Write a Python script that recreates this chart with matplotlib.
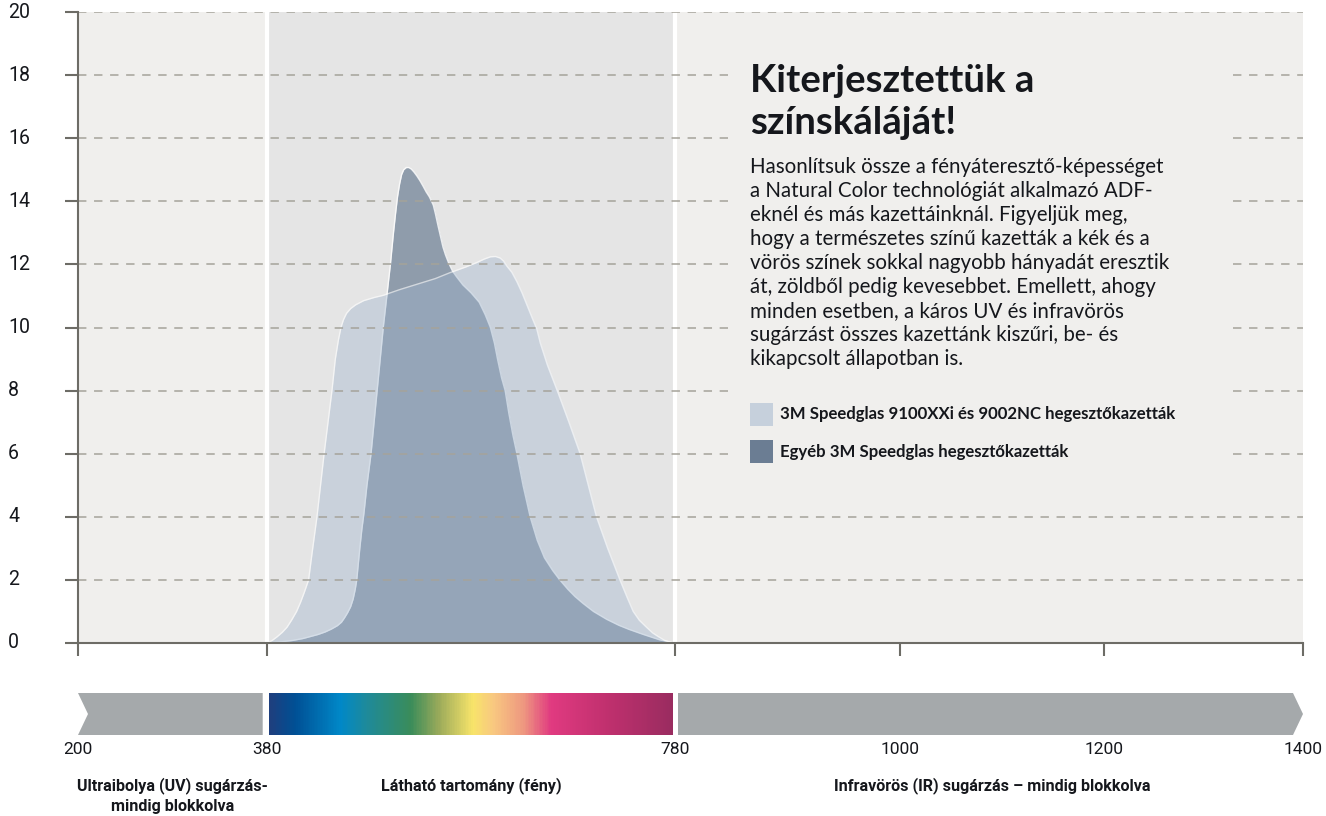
import numpy as np
import matplotlib
matplotlib.use("Agg")
import matplotlib.pyplot as plt
from matplotlib.colors import LinearSegmentedColormap
from matplotlib.patches import Polygon, Rectangle
from matplotlib.transforms import blended_transform_factory

# ---------------- data ----------------
wl_other = [380, 395, 405, 415, 422, 430, 437, 443, 449, 453, 456, 459, 462, 464.5, 466.5, 468,
            469.5, 471, 473, 475, 478, 482, 485, 488,
            491, 494, 497.5, 501, 504, 506, 508, 510, 512, 514, 516.5, 519, 521.5, 524, 527, 530,
            533, 536, 539, 541, 543, 545, 547.5, 550, 552.5, 555, 558, 562, 566, 572, 580, 588,
            594, 599, 603, 606, 610, 613.5, 617,
            621, 625, 631, 638, 645, 652, 660, 667, 675, 682, 690, 700, 713, 725, 735, 749, 765, 780]
tr_other = [0, 0.04, 0.08, 0.14, 0.2, 0.27, 0.35, 0.44, 0.55, 0.66, 0.8, 0.96, 1.15, 1.4, 1.7, 2.0,
            2.5, 3.0, 3.6, 4.1, 5.0, 6.0, 7.0, 8.0,
            9.0, 10.0, 11.0, 12.0, 13.0, 13.6, 14.15, 14.55, 14.85, 15.0, 15.07, 15.07, 15.02, 14.93, 14.8, 14.65,
            14.48, 14.3, 14.15, 14.02, 13.88, 13.62, 13.25, 12.9, 12.55, 12.3, 12.05, 11.78, 11.6, 11.35, 11.1, 10.8,
            10.4, 10.0, 9.5, 9.0, 8.4, 8.0, 7.3,
            6.6, 6.0, 5.0, 4.0, 3.25, 2.7, 2.3, 2.0, 1.7, 1.47, 1.25, 1.0, 0.75, 0.56, 0.43, 0.27, 0.1, 0]

wl_nc = [380, 385, 390, 395, 399.6, 404, 409, 413, 416.5, 420.8, 424, 429, 436, 443.7, 447, 450,
         452.5, 455, 458, 462, 467, 474.7, 485, 494, 510, 527, 545, 559.6, 575, 585.7, 593, 599,
         604, 608.6, 612, 615, 620, 625, 630, 635, 640, 644.5, 648, 655, 665.7, 676, 687, 695,
         703, 714, 726, 733, 739, 745, 752, 758, 763.7, 770, 778]
tr_nc = [0, 0.08, 0.2, 0.34, 0.5, 0.72, 1.0, 1.3, 1.6, 2.0, 2.8, 4.0, 6.0, 8.0, 9.0, 9.6,
         10.0, 10.25, 10.45, 10.6, 10.72, 10.85, 10.95, 11.02, 11.2, 11.37, 11.55, 11.74, 11.92, 12.06, 12.17, 12.24,
         12.25, 12.2, 12.1, 11.95, 11.75, 11.45, 11.1, 10.7, 10.3, 9.95, 9.5, 8.8, 7.9, 7.0, 6.0, 5.0,
         4.0, 3.0, 2.0, 1.45, 1.0, 0.72, 0.5, 0.32, 0.2, 0.08, 0]

x_ticks = [200, 380, 780, 1000, 1200, 1400]
x_ticklabels = ["200", "380", "780", "1000", "1200", "1400"]
y_ticks = [0, 2, 4, 6, 8, 10, 12, 14, 16, 18, 20]
visible_band = [380, 780]
band_centers = [290, 580, 1090]
band_labels = ["Ultraibolya (UV) sugárzás-\nmindig blokkolva",
               "Látható tartomány (fény)",
               "Infravörös (IR) sugárzás – mindig blokkolva"]
legend_labels = ["3M Speedglas 9100XXi és 9002NC hegesztőkazetták",
                 "Egyéb 3M Speedglas hegesztőkazetták"]
title_lines = ["Kiterjesztettük a", "színskáláját!"]
body_lines = ["Hasonlítsuk össze a fényáteresztő-képességet",
              "a Natural Color technológiát alkalmazó ADF-",
              "eknél és más kazettáinknál. Figyeljük meg,",
              "hogy a természetes színű kazetták a kék és a",
              "vörös színek sokkal nagyobb hányadát eresztik",
              "át, zöldből pedig kevesebbet. Emellett, ahogy",
              "minden esetben, a káros UV és infravörös",
              "sugárzást összes kazettánk kiszűri, be- és",
              "kikapcsolt állapotban is."]

# ---------------- style ----------------
W, H = 1326, 816
BG_OUT = "#f0efed"
BG_VIS = "#e5e5e5"
C_LIGHT = "#9fb5ce"
C_DARK = "#6b7d93"
C_LEG_LIGHT = "#c6d0dc"
C_LEG_DARK = "#6b7d93"
C_GRID = "#a5a39a"
C_AXIS = "#6d6c66"
C_GRAY = "#a5a9ab"
TXT = "#15171c"
FONT_TEXT = ["Lato", "DejaVu Sans"]
FONT_AX = ["Roboto", "DejaVu Sans"]

fig = plt.figure(figsize=(W / 100, H / 100), dpi=100)
fig.patch.set_facecolor("white")


def fx(px):
    return px / W


def fy(py):
    return 1 - py / H


tick_px = [78, 267, 675, 900, 1104, 1303]


def fwd(v):
    return np.interp(v, x_ticks, tick_px)


def inv(p):
    return np.interp(p, tick_px, x_ticks)


# ---------------- main axes ----------------
ax = fig.add_axes([fx(78), fy(643), (1303 - 78) / W, (643 - 12) / H])
ax.set_xscale("function", functions=(fwd, inv))
ax.set_xlim(200, 1400)
ax.set_ylim(0, 20)
ax.set_facecolor(BG_OUT)
ax.axvspan(visible_band[0], visible_band[1], color=BG_VIS, zorder=0.5, lw=0)
for v in visible_band:
    ax.axvline(v, color="white", lw=3, zorder=0.8)

ax.fill_between(wl_other, tr_other, color=C_DARK, alpha=0.7, lw=0, zorder=1.2)
ax.plot(wl_other, tr_other, color="white", lw=1.0, alpha=0.8, zorder=1.3,
        solid_joinstyle="round")
ax.fill_between(wl_nc, tr_nc, color=C_LIGHT, alpha=0.4, lw=0, zorder=1.4)
ax.plot(wl_nc, tr_nc, color="white", lw=1.0, alpha=0.6, zorder=1.5,
        solid_joinstyle="round")

ax.set_yticks(y_ticks)
ax.yaxis.grid(True, color=C_GRID, lw=1.1, linestyle=(0, (5.5, 5)), zorder=2.5)
ax.set_axisbelow(False)
ax.set_yticklabels([])
ax.set_xticks(x_ticks)
ax.set_xticklabels([])
ax.xaxis.set_minor_locator(matplotlib.ticker.NullLocator())
ax.tick_params(axis="both", length=9.5, width=1.5, color=C_AXIS, direction="out")
for s in ["top", "right"]:
    ax.spines[s].set_visible(False)
for s in ["left", "bottom"]:
    ax.spines[s].set_color(C_AXIS)
    ax.spines[s].set_linewidth(1.5)
    ax.spines[s].set_zorder(3)
gl = ax.yaxis.get_gridlines()
if len(gl):
    gl[0].set_visible(False)

renderer = fig.canvas.get_renderer()


def fit(texts, ref_idx, target_px):
    t = texts[ref_idx]
    w = t.get_window_extent(renderer=renderer).width
    scale = target_px / w
    for tt in texts:
        tt.set_fontsize(tt.get_fontsize() * scale)


# y tick labels
ty = blended_transform_factory(fig.transFigure, ax.transData)
yts = [ax.text(fx(8), v, str(v), transform=ty, ha="left", va="center",
               fontsize=12, family=FONT_AX, color=TXT, clip_on=False)
       for v in y_ticks]
fit(yts, len(yts) - 1, 22)

# mask behind the text block
ax.add_patch(Rectangle((fx(728), fy(480)), (1230 - 728) / W, (480 - 40) / H,
                       transform=fig.transFigure, facecolor=BG_OUT, edgecolor="none",
                       zorder=3.5, clip_on=False))

# ---------------- text block ----------------
title_y = [91.7, 134]
tts = [fig.text(fx(750), fy(y), s, ha="left", va="baseline", fontsize=25,
                weight="bold", family=FONT_TEXT, color=TXT, zorder=5)
       for s, y in zip(title_lines, title_y)]
fit(tts, 0, 285)

bts = [fig.text(fx(750), fy(172.7 + 24 * i), s, ha="left", va="baseline", fontsize=13,
                family=FONT_TEXT, color=TXT, zorder=5)
       for i, s in enumerate(body_lines)]
fit(bts, 0, 414)

leg_colors = [C_LEG_LIGHT, C_LEG_DARK]
leg_y = [403, 440]
lts = []
for lab, c, y in zip(legend_labels, leg_colors, leg_y):
    fig.patches.append(Rectangle((fx(750), fy(y + 23)), 23 / W, 23 / H,
                                 transform=fig.transFigure, facecolor=c,
                                 edgecolor="none", zorder=5))
    lts.append(fig.text(fx(780), fy(y + 11.5), lab, ha="left", va="center", fontsize=10,
                        weight="bold", family=FONT_TEXT, color=TXT, zorder=6))
fit(lts, 0, 397)

# ---------------- spectrum bar ----------------
bx = fig.add_axes([fx(78), fy(735), (1303 - 78) / W, (735 - 693) / H])
bx.set_xscale("function", functions=(fwd, inv))
bx.set_xlim(200, 1400)
bx.set_ylim(0, 1)
bx.axis("off")

uv_end = inv(262.7)
notch = inv(78 + 10)
bx.add_patch(Polygon([(200, 0), (uv_end, 0), (uv_end, 1), (200, 1), (notch, 0.5)],
                     closed=True, facecolor=C_GRAY, edgecolor="none"))
ir_start = inv(678)
arrow_base = inv(1293)
bx.add_patch(Polygon([(ir_start, 0), (arrow_base, 0), (1400, 0.5), (arrow_base, 1),
                      (ir_start, 1)], closed=True, facecolor=C_GRAY, edgecolor="none"))

spec_stops = [(0.0, "#1e3f7e"), (0.06, "#004f94"), (0.175, "#0088c8"), (0.24, "#1e8a9a"),
              (0.35, "#3a8c5a"), (0.42, "#9aaa5a"), (0.505, "#f8e46a"), (0.555, "#f8c880"),
              (0.63, "#ee9880"), (0.70, "#e03a80"), (0.84, "#c0306e"), (1.0, "#9a2c60")]
cmap = LinearSegmentedColormap.from_list("spec", spec_stops)
s0, s1 = inv(269.3), inv(672.7)
grad_x = np.linspace(s0, s1, 600)
bx.pcolormesh(grad_x, [0, 1], np.linspace(0, 1, 599)[None, :], cmap=cmap,
              shading="flat")

# x tick labels
tx = blended_transform_factory(ax.transData, fig.transFigure)
xts = [ax.text(v, fy(750), lab, transform=tx, ha="center", va="center", fontsize=11,
               family=FONT_AX, color=TXT, clip_on=False)
       for v, lab in zip(x_ticks, x_ticklabels)]
fit(xts, 3, 39)

cts = []
for c, lab in zip(band_centers, band_labels):
    cts.append(ax.text(c, fy(777), lab, transform=tx, ha="center", va="top", fontsize=10,
                       weight="bold", family=FONT_AX, color=TXT, clip_on=False,
                       linespacing=1.45))
fit(cts, 2, 318)

fig.savefig("out.png", dpi=100, facecolor="white")
